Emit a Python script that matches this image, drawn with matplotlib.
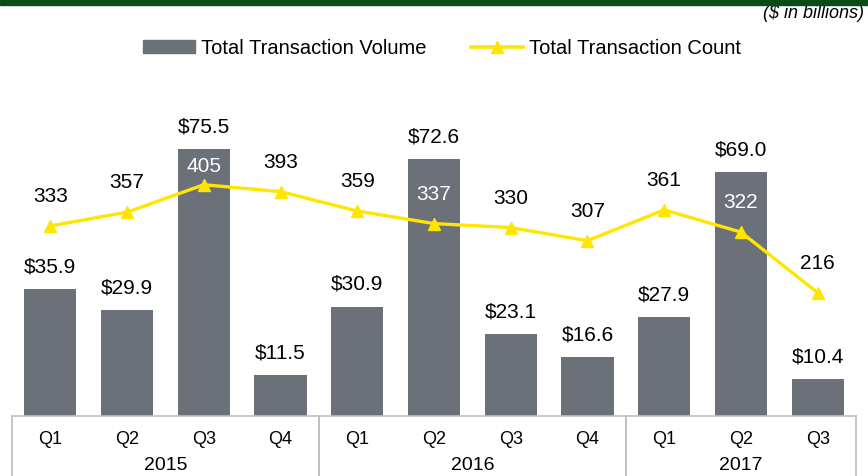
import matplotlib.pyplot as plt
import matplotlib.transforms as mtransforms
from matplotlib.patches import Rectangle
import numpy as np

plt.rcParams["font.family"] = ["Liberation Sans", "DejaVu Sans"]

quarters = ["Q1", "Q2", "Q3", "Q4", "Q1", "Q2", "Q3", "Q4", "Q1", "Q2", "Q3"]
years = ["2015", "2016", "2017"]
year_sizes = [4, 4, 3]
volume = [35.9, 29.9, 75.5, 11.5, 30.9, 72.6, 23.1, 16.6, 27.9, 69.0, 10.4]
count = [333, 357, 405, 393, 359, 337, 330, 307, 361, 322, 216]

BAR = "#6b7079"
LINE = "#ffe600"
GRID = "#bfbfbf"

W, H = 868, 476
fig = plt.figure(figsize=(W / 100, H / 100), dpi=100)
ax_l, ax_r, ax_b, ax_t = 12, 856, 416, 100
ax = fig.add_axes([ax_l / W, 1 - ax_b / H, (ax_r - ax_l) / W, (ax_b - ax_t) / H])
ax2 = ax.twinx()

x = np.arange(len(volume))
ax.bar(x, volume, width=0.68, color=BAR, zorder=2)
ax.set_xlim(-0.5, len(volume) - 0.5)
ax.set_ylim(0, (ax_b - ax_t) / 3.54)

ax2.plot(x, count, color=LINE, lw=2.4, marker="^", ms=8, zorder=3)
ax2.set_ylim(0, (ax_b - ax_t) / 0.571)

for a in (ax, ax2):
    for s in ("left", "right", "top"):
        a.spines[s].set_visible(False)
    a.set_yticks([])
ax2.spines["bottom"].set_visible(False)
ax.spines["bottom"].set_color(GRID)
ax.spines["bottom"].set_linewidth(1.2)
ax.set_zorder(ax2.get_zorder() - 1)
ax.patch.set_visible(False)

# bar labels
for xi, v in zip(x, volume):
    ax.annotate(f"${v:.1f}", (xi, v), xytext=(0, 16), textcoords="offset points",
                ha="center", va="center", fontsize=15)

# count labels, white where they sit inside a bar
for xi, c, v in zip(x, count, volume):
    off = 21
    label_px = ax_b - c * 0.571 - off * 1.39
    bar_top = ax_b - v * 3.54
    if bar_top - 12 < label_px < bar_top + 12:
        off = 13
        label_px = ax_b - c * 0.571 - off * 1.39
    inside = label_px > bar_top
    ax2.annotate(f"{c}", (xi, c), xytext=(0, off), textcoords="offset points",
                 ha="center", va="center", fontsize=15,
                 color="white" if inside else "black")

# category axis
ax.set_xticks(x)
ax.set_xticklabels(quarters, fontsize=13)
ax.tick_params(axis="x", length=0, pad=11)
trans = mtransforms.blended_transform_factory(ax.transData, ax.transAxes)
depth = -(H - ax_b) / (ax_b - ax_t)
start = -0.5
for yr, n in zip(years, year_sizes):
    ax.text(start + n / 2, -49 / (ax_b - ax_t), yr, transform=trans,
            ha="center", va="center", fontsize=14)
    for edge in (start, start + n):
        ax.plot([edge, edge], [0, depth], transform=trans, color=GRID,
                lw=1.2, clip_on=False)
    start += n

# top band and units note
fig.patches.append(Rectangle((0, 1 - 5 / H), 1, 5 / H, transform=fig.transFigure,
                             color="#0b4a1a", zorder=5))
fig.text(864 / W, 1 - 14 / H, "($ in billions)", ha="right", va="center",
         fontsize=13, style="italic")

handles = [Rectangle((0, 0), 1, 1, color=BAR),
           plt.Line2D([], [], color=LINE, lw=2.6, marker="^", ms=8)]
fig.legend(handles, ["Total Transaction Volume", "Total Transaction Count"],
           loc="center", bbox_to_anchor=(442 / W, 1 - 48 / H), ncol=2,
           frameon=False, fontsize=14.5, handlelength=2.6, handleheight=0.6,
           handletextpad=0.3, columnspacing=2.2)

fig.savefig("out.png", dpi=100)
